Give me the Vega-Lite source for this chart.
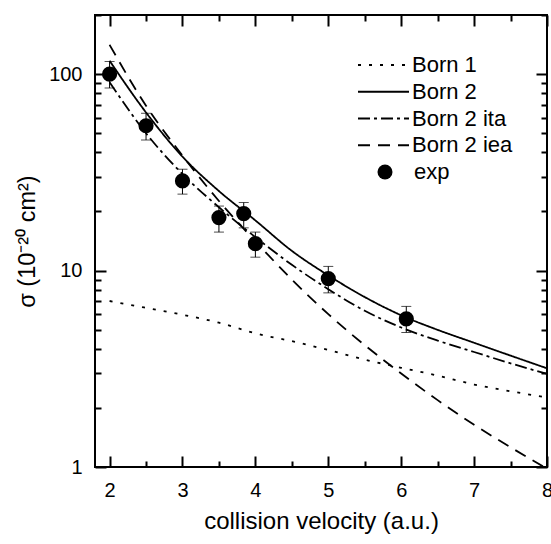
{
  "$schema": "https://vega.github.io/schema/vega-lite/v6.json",
  "width": 452,
  "height": 452,
  "autosize": "none",
  "padding": {"left": 95, "top": 15, "right": 4, "bottom": 77},
  "background": "white",
  "config": {
    "font": "Liberation Sans",
    "view": {"stroke": "black", "strokeWidth": 2},
    "axis": {
      "domain": false, "ticks": false,
      "labelColor": "black", "titleColor": "black", "labelFont": "Liberation Sans",
      "titleFont": "Liberation Sans", "titleFontWeight": "normal",
      "gridColor": "black", "gridWidth": 2, "gridOpacity": 1,
      "labelFontSize": 20, "labelFlush": false, "labelOverlap": false
    },
    "legend": {"labelFont": "Liberation Sans", "labelColor": "black", "labelFontSize": 22, "padding": 0, "title": null}
  },
  "datasets": {
    "curves": [
      {"series": "Born 1", "v": 2, "s": 7.0}, {"series": "Born 1", "v": 2.5, "s": 6.46}, {"series": "Born 1", "v": 3, "s": 5.96},
      {"series": "Born 1", "v": 3.5, "s": 5.43}, {"series": "Born 1", "v": 4, "s": 4.79}, {"series": "Born 1", "v": 4.5, "s": 4.37},
      {"series": "Born 1", "v": 5, "s": 3.94}, {"series": "Born 1", "v": 5.5, "s": 3.52}, {"series": "Born 1", "v": 6, "s": 3.2},
      {"series": "Born 1", "v": 6.5, "s": 2.92}, {"series": "Born 1", "v": 7, "s": 2.63}, {"series": "Born 1", "v": 7.5, "s": 2.43},
      {"series": "Born 1", "v": 8, "s": 2.26},
      {"series": "Born 2", "v": 2, "s": 117}, {"series": "Born 2", "v": 2.5, "s": 63.8}, {"series": "Born 2", "v": 3, "s": 38},
      {"series": "Born 2", "v": 3.5, "s": 25.4}, {"series": "Born 2", "v": 4, "s": 18.0}, {"series": "Born 2", "v": 4.5, "s": 12.6},
      {"series": "Born 2", "v": 5, "s": 9.45}, {"series": "Born 2", "v": 5.5, "s": 7.33}, {"series": "Born 2", "v": 6, "s": 5.92},
      {"series": "Born 2", "v": 6.5, "s": 4.99}, {"series": "Born 2", "v": 7, "s": 4.29}, {"series": "Born 2", "v": 7.5, "s": 3.69},
      {"series": "Born 2", "v": 8, "s": 3.18},
      {"series": "Born 2 ita", "v": 2, "s": 91}, {"series": "Born 2 ita", "v": 2.5, "s": 50}, {"series": "Born 2 ita", "v": 3, "s": 31},
      {"series": "Born 2 ita", "v": 3.5, "s": 21}, {"series": "Born 2 ita", "v": 4, "s": 14.8}, {"series": "Born 2 ita", "v": 4.5, "s": 10.7},
      {"series": "Born 2 ita", "v": 5, "s": 8.04}, {"series": "Born 2 ita", "v": 5.5, "s": 6.24}, {"series": "Born 2 ita", "v": 6, "s": 5.13},
      {"series": "Born 2 ita", "v": 6.5, "s": 4.4}, {"series": "Born 2 ita", "v": 7, "s": 3.85}, {"series": "Born 2 ita", "v": 7.5, "s": 3.37},
      {"series": "Born 2 ita", "v": 8, "s": 2.98},
      {"series": "Born 2 iea", "v": 2, "s": 141}, {"series": "Born 2 iea", "v": 2.5, "s": 69}, {"series": "Born 2 iea", "v": 3, "s": 38.5},
      {"series": "Born 2 iea", "v": 3.5, "s": 22.6}, {"series": "Born 2 iea", "v": 4, "s": 14.1}, {"series": "Born 2 iea", "v": 4.5, "s": 9.0},
      {"series": "Born 2 iea", "v": 5, "s": 6.0}, {"series": "Born 2 iea", "v": 5.5, "s": 4.17}, {"series": "Born 2 iea", "v": 6, "s": 2.99},
      {"series": "Born 2 iea", "v": 6.5, "s": 2.19}, {"series": "Born 2 iea", "v": 7, "s": 1.64}, {"series": "Born 2 iea", "v": 7.5, "s": 1.26},
      {"series": "Born 2 iea", "v": 8, "s": 0.98}
    ],
    "exp": [
      {"series": "exp", "v": 2, "s": 100, "lo": 85, "hi": 116},
      {"series": "exp", "v": 2.5, "s": 54.6, "lo": 46.2, "hi": 63.2},
      {"series": "exp", "v": 3, "s": 28.6, "lo": 24.5, "hi": 32.8},
      {"series": "exp", "v": 3.5, "s": 18.6, "lo": 15.7, "hi": 21.3},
      {"series": "exp", "v": 3.84, "s": 19.5, "lo": 16.5, "hi": 22.2},
      {"series": "exp", "v": 4, "s": 13.7, "lo": 11.7, "hi": 15.7},
      {"series": "exp", "v": 5, "s": 9.1, "lo": 7.7, "hi": 10.5},
      {"series": "exp", "v": 6.07, "s": 5.68, "lo": 4.84, "hi": 6.57}
    ]
  },
  "layer": [
    {
      "data": {"name": "curves"},
      "mark": {"type": "line", "clip": true, "strokeWidth": 1.8, "color": "black", "interpolate": "monotone"},
      "encoding": {
        "x": {
          "field": "v", "type": "quantitative",
          "scale": {"domain": [1.8, 8], "nice": false, "zero": false},
          "axis": {
            "orient": "bottom", "values": [2, 3, 4, 5, 6, 7, 8], "format": "d",
            "grid": true, "gridDash": [11, 430, 11, 1000], "labelPadding": 13,
            "title": "collision velocity (a.u.)", "titleFontSize": 24, "titlePadding": 9
          }
        },
        "y": {
          "field": "s", "type": "quantitative",
          "scale": {"type": "log", "domain": [1, 200], "nice": false},
          "axis": {
            "orient": "left", "values": [1, 10, 100], "format": "d",
            "grid": true, "gridDash": [11, 430, 11, 1000], "labelPadding": 13,
            "title": "σ (10⁻²⁰ cm²)", "titleFontSize": 23.5, "titlePadding": 9
          }
        },
        "strokeDash": {
          "field": "series", "type": "nominal",
          "scale": {
            "domain": ["Born 1", "Born 2", "Born 2 ita", "Born 2 iea"],
            "range": [[3, 8], [1, 0], [12, 4, 3, 4], [12, 8]]
          },
          "legend": {
            "orient": "none", "legendX": 262, "legendY": 39,
            "symbolType": "stroke", "symbolSize": 2601, "symbolStrokeWidth": 1.8,
            "symbolStrokeColor": "black", "labelOffset": 2, "clipHeight": 22, "rowPadding": 4.75
          }
        }
      }
    },
    {
      "data": {"name": "exp"},
      "mark": {"type": "rule", "color": "black", "strokeWidth": 1},
      "encoding": {
        "x": {
          "field": "v", "type": "quantitative",
          "axis": {"orient": "bottom", "values": [2.5, 3.5, 4.5, 5.5, 6.5, 7.5], "labels": false, "title": null, "grid": true, "gridDash": [6, 440, 6, 1000]}
        },
        "y": {
          "field": "lo", "type": "quantitative",
          "axis": {"orient": "left", "values": [2, 3, 4, 5, 6, 7, 8, 9, 20, 30, 40, 50, 60, 70, 80, 90, 200], "labels": false, "title": null, "grid": true, "gridDash": [6, 440, 6, 1000]}
        },
        "y2": {"field": "hi"}
      }
    },
    {
      "data": {"name": "exp"},
      "mark": {"type": "tick", "orient": "horizontal", "size": 10, "thickness": 1, "color": "black"},
      "encoding": {
        "x": {"field": "v", "type": "quantitative", "axis": null},
        "y": {"field": "lo", "type": "quantitative", "axis": null}
      }
    },
    {
      "data": {"name": "exp"},
      "mark": {"type": "tick", "orient": "horizontal", "size": 10, "thickness": 1, "color": "black"},
      "encoding": {
        "x": {"field": "v", "type": "quantitative", "axis": null},
        "y": {"field": "hi", "type": "quantitative", "axis": null}
      }
    },
    {
      "data": {"name": "exp"},
      "mark": {"type": "point", "filled": true, "size": 230, "color": "black", "opacity": 1},
      "encoding": {
        "x": {"field": "v", "type": "quantitative", "axis": null},
        "y": {"field": "s", "type": "quantitative", "axis": null},
        "shape": {
          "field": "series", "type": "nominal",
          "scale": {"domain": ["exp"], "range": ["circle"]},
          "legend": {
            "orient": "none", "legendX": 279, "legendY": 146,
            "symbolSize": 225, "symbolFillColor": "black", "symbolStrokeColor": "black",
            "symbolStrokeWidth": 1, "symbolOpacity": 1, "labelOffset": 18, "clipHeight": 22
          }
        }
      }
    }
  ],
  "resolve": {"axis": {"x": "independent", "y": "independent"}}
}
